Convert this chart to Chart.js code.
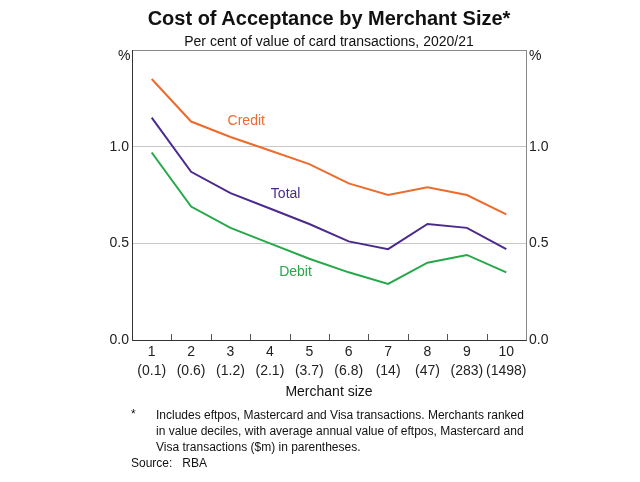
<!DOCTYPE html>
<html>
<head>
<meta charset="utf-8">
<script src="https://cdn.jsdelivr.net/npm/chart.js@4.4.1/dist/chart.umd.min.js"></script>
<style>
  html, body { margin: 0; padding: 0; background: #fff; }
  #wrap { position: relative; width: 640px; height: 482px; font-family: "Liberation Sans", Arial, sans-serif; color: #111; }
  canvas { position: absolute; left: 0; top: 0; }
  .t { position: absolute; white-space: nowrap; }
  #title { left: 0; width: 658px; text-align: center; top: 7px; font-size: 20px; font-weight: bold; }
  #sub { left: 0; width: 658px; text-align: center; top: 33px; font-size: 14px; }
  .pct { top: 47px; font-size: 14px; }
  #xtitle { left: 0; width: 658px; text-align: center; top: 383px; font-size: 14px; }
  .note { font-size: 12px; line-height: 16px; }
</style>
</head>
<body>
<div id="wrap">
  <canvas id="c" width="640" height="482"></canvas>
  <div class="t" id="title">Cost of Acceptance by Merchant Size*</div>
  <div class="t" id="sub">Per cent of value of card transactions, 2020/21</div>
  <div class="t pct" style="left:118px">%</div>
  <div class="t pct" style="left:529px">%</div>
  <div class="t" id="xtitle">Merchant size</div>
  <div class="t note" style="left:131px; top:406px">*</div>
  <div class="t note" style="left:156px; top:407px">Includes eftpos, Mastercard and Visa transactions. Merchants ranked<br>in value deciles, with average annual value of eftpos, Mastercard and<br>Visa transactions ($m) in parentheses.</div>
  <div class="t note" style="left:131px; top:455px">Source:&nbsp;&nbsp; RBA</div>
</div>
<script>
  // categories (decile + average annual value, $m)
  const deciles = ["1", "2", "3", "4", "5", "6", "7", "8", "9", "10"];
  const avgValue = ["(0.1)", "(0.6)", "(1.2)", "(2.1)", "(3.7)", "(6.8)", "(14)", "(47)", "(283)", "(1498)"];

  // per cent of value of card transactions
  const credit = [1.35, 1.13, 1.05, 0.98, 0.91, 0.81, 0.75, 0.79, 0.75, 0.65];
  const total = [1.15, 0.87, 0.76, 0.68, 0.60, 0.51, 0.47, 0.60, 0.58, 0.47];
  const debit = [0.97, 0.69, 0.58, 0.50, 0.42, 0.35, 0.29, 0.40, 0.44, 0.35];

  const yTicks = [0, 0.5, 1.0, 1.5];

  const COLORS = { credit: "#EC6B2D", total: "#4B2A8F", debit: "#25A84A" };
  const FONT = "'Liberation Sans', Arial, sans-serif";

  // series labels placed in data units (category index, y value)
  const seriesLabels = [
    { text: "Credit", x: 2.4, y: 1.13, color: COLORS.credit },
    { text: "Total", x: 3.4, y: 0.755, color: COLORS.total },
    { text: "Debit", x: 3.65, y: 0.35, color: COLORS.debit },
  ];

  const framePlugin = {
    id: "frame",
    afterDatasetsDraw(chart) {
      const { ctx, chartArea: a, scales } = chart;
      ctx.save();
      // inward tick marks between categories
      ctx.strokeStyle = "#555";
      ctx.lineWidth = 1;
      const xs = scales.x;
      for (let i = 1; i < deciles.length; i++) {
        const px = Math.round((xs.getPixelForTick(i - 1) + xs.getPixelForTick(i)) / 2) + 0.5;
        ctx.beginPath();
        ctx.moveTo(px, a.bottom);
        ctx.lineTo(px, a.bottom - 6);
        ctx.stroke();
      }
      // frame
      ctx.strokeStyle = "#888";
      ctx.strokeRect(a.left + 0.5, a.top + 0.5, a.right - a.left, a.bottom - a.top);
      ctx.strokeStyle = "#333";
      ctx.beginPath();
      ctx.moveTo(a.left + 0.5, a.top);
      ctx.lineTo(a.left + 0.5, a.bottom + 0.5);
      ctx.lineTo(a.right + 0.5, a.bottom + 0.5);
      ctx.stroke();
      // series labels
      ctx.font = "14px " + FONT;
      ctx.textAlign = "center";
      ctx.textBaseline = "middle";
      seriesLabels.forEach((l) => {
        ctx.fillStyle = l.color;
        ctx.fillText(l.text, xs.getPixelForValue(l.x), scales.y.getPixelForValue(l.y));
      });
      ctx.restore();
    },
  };

  const yCommon = {
    min: 0,
    max: 1.5,
    afterBuildTicks(scale) {
      scale.ticks = yTicks.map((v) => ({ value: v }));
    },
    ticks: {
      padding: 3,
      color: "#222",
      font: { family: FONT, size: 14 },
      callback: (v) => (v >= 1.5 ? "" : Number(v).toFixed(1)),
    },
    border: { display: false },
  };

  new Chart(document.getElementById("c"), {
    type: "line",
    data: {
      labels: deciles.map((d, i) => [d, avgValue[i]]),
      datasets: [
        { label: "Credit", data: credit, borderColor: COLORS.credit },
        { label: "Total", data: total, borderColor: COLORS.total },
        { label: "Debit", data: debit, borderColor: COLORS.debit },
      ].map((d) => Object.assign(d, { borderWidth: 2, pointRadius: 0, tension: 0, fill: false })),
    },
    options: {
      responsive: false,
      animation: false,
      events: [],
      layout: { padding: { top: 50, left: 0, right: 0, bottom: 0 } },
      plugins: { legend: { display: false }, tooltip: { enabled: false } },
      scales: {
        x: {
          type: "category",
          offset: true,
          grid: { display: false, drawTicks: false },
          border: { display: false },
          ticks: {
            padding: 3,
            maxRotation: 0,
            autoSkip: false,
            color: "#222",
            font: { family: FONT, size: 14, lineHeight: 1.35 },
          },
          afterFit(scale) { scale.height = 142; },
        },
        y: Object.assign({}, yCommon, {
          position: "left",
          grid: {
            drawTicks: false,
            color: (c) => (c.tick.value > 0 && c.tick.value < 1.5 ? "#c8c8c8" : "rgba(0,0,0,0)"),
          },
          afterFit(scale) { scale.width = 132; },
        }),
        y2: Object.assign({}, yCommon, {
          position: "right",
          grid: { display: false, drawTicks: false },
          afterFit(scale) { scale.width = 114; },
        }),
      },
    },
    plugins: [framePlugin],
  });
</script>
</body>
</html>
